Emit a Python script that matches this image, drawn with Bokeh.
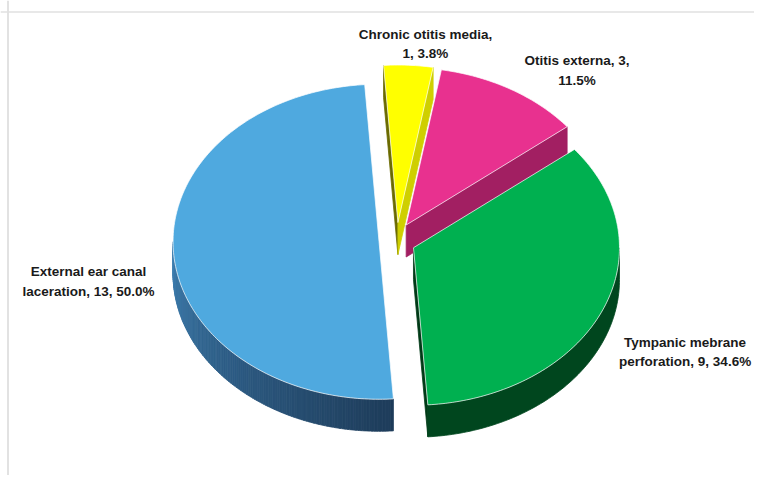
import math
import textwrap
from bokeh.plotting import figure
from bokeh.models import Range1d, Span, ColumnDataSource
from bokeh.core.properties import value
from bokeh.embed import file_html
from bokeh.resources import INLINE

# ---- data ----
categories = ["Chronic otitis media", "Otitis externa",
              "Tympanic mebrane perforation", "External ear canal laceration"]
counts = [1, 3, 9, 13]

# ---- style / layout ----
top_colors = ["#FFFF00", "#E8318F", "#00B050", "#4FA9DF"]
side_colors = ["#CFCF00", "#A21F62", "#00461E", "#24476A"]
cut_dark = ["#6B6B00", "#7A1848", "#003A17", "#1F3E5C"]
blue_light = (62, 126, 176)
blue_dark = (30, 60, 90)
W, H = 754, 475
CX, CY = 396.5, 240.0
RX, RY = 206.0, 157.5
DEPTH = 32.0
EXPLODE = 18.0
START = -4.0
label_offsets = [(17, -21), (66, -19), (83, 41), (-85, 29)]

total = sum(counts)
pcts = [100.0 * c / total for c in counts]


def pt(cx, cy, th, dy=0.0):
    r = math.radians(th)
    return cx + RX * math.sin(r), cy - RY * math.cos(r) + dy


def arc(cx, cy, a, b, dy=0.0, step=1.0):
    n = max(2, int(math.ceil((b - a) / step)) + 1)
    pts = [pt(cx, cy, a + (b - a) * k / (n - 1), dy) for k in range(n)]
    return [p[0] for p in pts], [p[1] for p in pts]


p = figure(width=W, height=H, output_backend="svg", toolbar_location=None,
           x_range=Range1d(0, W), y_range=Range1d(H, 0),
           min_border=0, outline_line_color=None, background_fill_color="white")
p.axis.visible = False
p.xgrid.visible = False
p.ygrid.visible = False

side_xs, side_ys, side_fill = [], [], []
top_xs, top_ys, top_fill = [], [], []
lab_x, lab_y, lab_t = [], [], []

cum = 0
for i, c in enumerate(counts):
    a = START + 360.0 * cum / total
    b = a + 360.0 * c / total
    cum += c
    mid = 0.5 * (a + b)
    mr = math.radians(mid)
    cx = CX + EXPLODE * math.sin(mr)
    cy = CY - EXPLODE * math.cos(mr)

    # radial cut faces
    for ang, vis in ((a, math.sin(math.radians(a)) < 0), (b, math.sin(math.radians(b)) > 0)):
        if vis:
            px, py = pt(cx, cy, ang)
            side_xs.append([cx, px, px, cx])
            side_ys.append([cy, py, py + DEPTH, cy + DEPTH])
            side_fill.append(side_colors[i] if ang == b and i < 2 else cut_dark[i])

    # outer curved side
    lo, hi = max(a, 90.0), min(b, 270.0)
    if lo < hi:
        if i == 3:
            nstrip = int(math.ceil((hi - lo) / 0.75))
            for k in range(nstrip):
                s0 = lo + (hi - lo) * k / nstrip
                s1 = lo + (hi - lo) * (k + 1) / nstrip
                tx, ty = arc(cx, cy, s0, s1, 0, 0.5)
                bx, by = arc(cx, cy, s0, s1, DEPTH, 0.5)
                side_xs.append(tx + bx[::-1])
                side_ys.append(ty + by[::-1])
                t = (270.0 - 0.5 * (s0 + s1)) / (270.0 - lo)
                t = min(1.0, max(0.0, t)) ** 0.9
                col = tuple(int(round(blue_light[j] + (blue_dark[j] - blue_light[j]) * t)) for j in range(3))
                side_fill.append("#%02x%02x%02x" % col)
        else:
            tx, ty = arc(cx, cy, lo, hi)
            bx, by = arc(cx, cy, lo, hi, DEPTH)
            side_xs.append(tx + bx[::-1])
            side_ys.append(ty + by[::-1])
            side_fill.append(side_colors[i])

    # top face
    ax_, ay_ = arc(cx, cy, a, b)
    top_xs.append([cx] + ax_)
    top_ys.append([cy] + ay_)
    top_fill.append(top_colors[i])

    # label
    mx, my = pt(cx, cy, mid)
    dx, dy = label_offsets[i]
    lab_x.append(mx + dx)
    lab_y.append(my + dy)
    txt = "%s, %d, %.1f%%" % (categories[i], c, pcts[i])
    lab_t.append("\n".join(textwrap.wrap(txt, 21)))

p.patches(xs="xs", ys="ys", fill_color="c", line_color="c", line_width=0.8,
          source=ColumnDataSource(dict(xs=side_xs, ys=side_ys, c=side_fill)))
p.patches(xs="xs", ys="ys", fill_color="c", line_color="white", line_alpha=0.7, line_width=1,
          source=ColumnDataSource(dict(xs=top_xs, ys=top_ys, c=top_fill)))

p.text(x="x", y="y", text="t", source=ColumnDataSource(dict(x=lab_x, y=lab_y, t=lab_t)),
       text_align="center", text_baseline="middle", text_font=value("Liberation Sans"),
       text_font_style="bold", text_font_size="13.5px", text_color="#1a1a1a",
       text_line_height=1.3)

p.add_layout(Span(location=7.5, dimension="height", line_color="#d9d9d9", line_width=1.5))
p.add_layout(Span(location=11.5, dimension="width", line_color="#e0e0e0", line_width=1.5))

open("out.html", "w").write(file_html(p, INLINE))
